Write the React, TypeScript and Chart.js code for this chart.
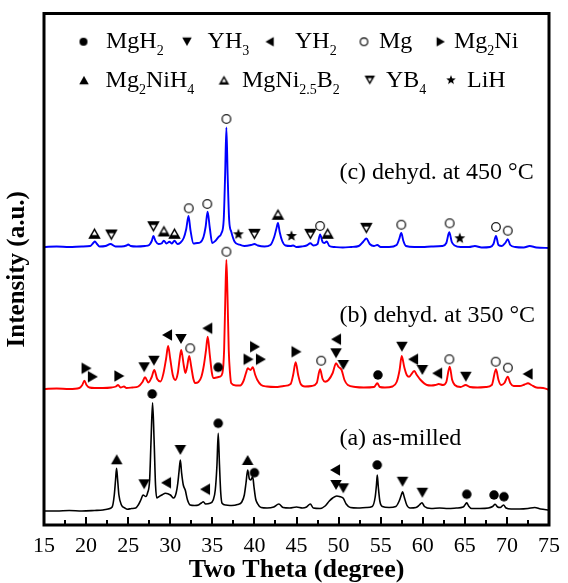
import React, { useEffect, useRef } from "react";
import { Chart, registerables } from "chart.js";

Chart.register(...registerables);

// XRD patterns: [2θ (deg), intensity (a.u., vertically stacked)]
const asMilled: [number, number][] = [
  [15.0, 14], [16.5, 14], [18.0, 14.5], [19.5, 14], [21.0, 14.5], [22.0, 15], [22.6, 16],
  [23.1, 18], [23.35, 30], [23.5, 45], [23.62, 56.7], [23.75, 45], [23.9, 30], [24.2, 20],
  [24.6, 17], [24.93, 15.7], [25.4, 16.5], [25.9, 17], [26.2, 20], [26.5, 25], [26.77, 30],
  [27.1, 28.5], [27.3, 32], [27.55, 45], [27.72, 85], [27.9, 122.3], [28.08, 85], [28.25, 40],
  [28.4, 27], [28.65, 28.3], [29.0, 30], [29.44, 31.7], [30.02, 30], [30.4, 27], [30.7, 32],
  [30.9, 42], [31.05, 54], [31.2, 65], [31.35, 52], [31.55, 40], [31.78, 35], [32.05, 25],
  [32.37, 20], [32.9, 19.5], [33.35, 20], [33.7, 22], [33.93, 23.3], [34.2, 21], [34.72, 21.7],
  [35.1, 25], [35.35, 35], [35.55, 60], [35.7, 91.7], [35.85, 60], [36.0, 32], [36.16, 21.7],
  [36.6, 20], [37.3, 19.5], [38.0, 20.5], [38.5, 23], [38.8, 30], [39.0, 42], [39.2, 55],
  [39.4, 46], [39.55, 45], [39.7, 47], [39.8, 48.3], [39.95, 38], [40.15, 26], [40.35, 21.7],
  [40.8, 17.5], [41.5, 17], [42.3, 18], [42.9, 21], [43.4, 17.5], [44.2, 17], [45.0, 18],
  [45.7, 17], [46.2, 18], [46.64, 21], [47.0, 17], [47.8, 16.5], [48.4, 19], [48.9, 24],
  [49.3, 27], [49.78, 29], [50.1, 28.5], [50.56, 26.7], [50.9, 21], [51.4, 17.5], [52.3, 17],
  [53.3, 17.5], [54.0, 18.5], [54.35, 28], [54.5, 40], [54.6, 50], [54.72, 38], [54.9, 24],
  [55.2, 18.5], [56.0, 17.5], [56.8, 18.5], [57.2, 24], [57.45, 30], [57.6, 33.3], [57.8, 28],
  [58.1, 20], [58.5, 17], [59.2, 17.5], [59.6, 20], [59.9, 22.3], [60.2, 18.5], [61.0, 16.5],
  [62.0, 17], [63.0, 16.5], [64.0, 17], [64.8, 18], [65.05, 20.5], [65.23, 22.3], [65.45, 19],
  [65.8, 16.5], [66.8, 16.5], [67.8, 17], [68.3, 18.5], [68.6, 20.7], [68.9, 18], [69.2, 17.5],
  [69.6, 20], [69.9, 17], [70.5, 16], [71.5, 16], [72.5, 16.5], [73.3, 17.5], [74.0, 16],
  [75.0, 15],
];

const dehyd350: [number, number][] = [
  [15.0, 136], [16.5, 136.5], [18.0, 136], [19.2, 137], [19.55, 140], [19.8, 144.3], [20.05, 140],
  [20.4, 137.5], [21.0, 137], [22.0, 137], [23.0, 137.5], [23.55, 138.5], [23.8, 140], [24.1, 137.5],
  [24.5, 138.5], [24.8, 137], [25.5, 137.5], [26.2, 138.5], [26.7, 143], [27.0, 147.7], [27.4, 142.5],
  [27.8, 148], [28.1, 155], [28.45, 146], [28.85, 143.5], [29.2, 152], [29.5, 166], [29.75, 179],
  [30.0, 166], [30.3, 150], [30.6, 145], [30.9, 152], [31.1, 165], [31.3, 175], [31.6, 160],
  [31.8, 152], [32.0, 158], [32.25, 169], [32.5, 158], [32.75, 146], [32.95, 142], [33.35, 143],
  [33.7, 148.3], [34.0, 160], [34.25, 175], [34.45, 188.3], [34.7, 170], [34.95, 152], [35.15, 147],
  [35.5, 147.5], [35.9, 148.3], [36.2, 152], [36.4, 175], [36.55, 230], [36.67, 265], [36.8, 230],
  [36.95, 175], [37.1, 152], [37.25, 141.7], [37.8, 139.5], [38.3, 139.5], [38.7, 144], [39.0, 152],
  [39.2, 156.7], [39.53, 155], [39.8, 157.7], [40.1, 150], [40.35, 145], [40.8, 140], [41.5, 138.5],
  [42.5, 138], [43.5, 139], [44.3, 141], [44.6, 150], [44.9, 162.7], [45.2, 150], [45.5, 141],
  [46.0, 138.5], [46.8, 139], [47.4, 142], [47.8, 155.7], [48.1, 146], [48.4, 143.3], [48.8, 145],
  [49.3, 152], [49.7, 161.7], [50.0, 158], [50.36, 155], [50.7, 145], [51.1, 140], [52.0, 138],
  [53.0, 137.5], [54.2, 138], [54.6, 141.7], [54.9, 138], [55.5, 137.5], [56.4, 138.5], [56.9, 143],
  [57.25, 155], [57.5, 169], [57.8, 158], [58.1, 150], [58.38, 148.3], [59.0, 154], [59.3, 150],
  [59.75, 145], [60.5, 140], [61.0, 139.5], [61.5, 140], [61.9, 141], [62.4, 140], [62.8, 143],
  [63.2, 158.3], [63.5, 145], [63.8, 140], [64.5, 138], [65.1, 140], [65.6, 138], [66.5, 137.5],
  [67.5, 138], [68.2, 140], [68.7, 155.7], [69.0, 145], [69.3, 140], [69.7, 142], [70.1, 148.3],
  [70.4, 142], [70.8, 139], [71.5, 139], [72.1, 140.5], [72.5, 141.7], [72.9, 140], [73.5, 137.5],
  [74.3, 137], [75.0, 135],
];

const dehyd450: [number, number][] = [
  [15.0, 278], [16.5, 278.5], [18.0, 278], [19.5, 278.5], [20.5, 279], [20.85, 282], [21.05, 283.5],
  [21.3, 281], [21.6, 278.5], [22.3, 279], [22.9, 281], [23.5, 278.5], [24.2, 278.5], [24.8, 279.5],
  [25.0, 280.5], [25.3, 279], [26.0, 278.5], [27.0, 279], [27.5, 280], [27.8, 284], [28.0, 289],
  [28.25, 284], [28.6, 281], [28.95, 281.5], [29.24, 284.3], [29.55, 281.5], [29.9, 283.3], [30.2, 281.5],
  [30.5, 284.3], [30.85, 281], [31.2, 282.3], [31.6, 287], [31.9, 296], [32.17, 309], [32.4, 295],
  [32.76, 281.5], [33.2, 282], [33.55, 282.5], [33.95, 288], [34.2, 298], [34.44, 313.3], [34.7, 297],
  [34.99, 282], [35.35, 284], [35.7, 287.7], [36.08, 291.7], [36.35, 305], [36.52, 350], [36.67, 397.5],
  [36.82, 350], [37.0, 305], [37.25, 293.3], [37.65, 283.3], [38.24, 280.3], [38.8, 279], [39.6, 280],
  [40.0, 281], [40.4, 279.5], [41.2, 278.5], [41.9, 280], [42.35, 288], [42.6, 296], [42.8, 302],
  [43.0, 293], [43.3, 284], [43.7, 279.5], [44.3, 279], [44.6, 279.5], [45.0, 278], [45.6, 278.5],
  [46.2, 279.5], [46.65, 281.7], [47.0, 279.5], [47.5, 281], [47.8, 290.5], [48.1, 283], [48.3, 282],
  [48.6, 283.5], [48.9, 279], [49.5, 278], [50.5, 277.5], [51.5, 278], [52.4, 279], [52.9, 283],
  [53.3, 286.5], [53.7, 281], [54.2, 279], [54.6, 280], [55.0, 278], [56.0, 278], [56.9, 280],
  [57.2, 286], [57.45, 292], [57.7, 284], [58.0, 279], [59.0, 278], [60.0, 278], [61.0, 278.5],
  [62.3, 279], [62.8, 282], [63.15, 292.7], [63.45, 283], [63.8, 279.5], [64.5, 278], [65.5, 278],
  [66.2, 279], [67.0, 277.5], [68.0, 278], [68.4, 281], [68.7, 289], [69.0, 280], [69.4, 279],
  [69.8, 282], [70.1, 285.7], [70.4, 280], [71.0, 278], [72.0, 277.5], [72.7, 279], [73.5, 277.5],
  [75.0, 277],
];

// Phase identification marks: [2θ, height of the mark]
const mgH2Marks: [number, number][] = [
  [27.86, 131], [35.7, 101.7], [40.0, 52.3], [54.59, 60], [65.23, 30.7], [68.47, 30], [69.65, 28.3],
  [35.7, 157.7], [54.67, 150],
];
const yH3Marks: [number, number][] = [
  [26.9, 40.7], [31.2, 75], [49.7, 40], [50.56, 36.7], [57.6, 43.3], [59.95, 32.3],
  [26.9, 157.7], [28.06, 164.3], [31.27, 186], [49.7, 171.7], [50.56, 160], [57.52, 178.3],
  [59.95, 155], [65.12, 148.3],
];
const yH2Marks: [number, number][] = [
  [29.5, 42.3], [34.13, 35.7], [49.58, 55],
  [29.62, 190], [34.4, 196.7], [49.7, 185.7], [58.85, 165.7], [61.71, 151.7], [72.46, 151],
];
const mgMarks: [number, number][] = [
  [32.37, 176.7], [36.67, 273.3], [47.93, 164.3], [63.16, 165.7], [68.67, 163.3], [70.12, 157.3],
  [32.2, 316.7], [34.4, 321], [36.67, 406], [47.8, 299], [57.45, 300.3], [63.2, 301.7], [68.7, 298],
  [70.1, 294.3],
];
const mg2NiMarks: [number, number][] = [
  [20.05, 156.7], [20.8, 148.3], [23.95, 149], [39.3, 165.7], [40.07, 178.3], [40.77, 165.7], [45.0, 173.3],
];
const mg2NiH4Marks: [number, number][] = [[23.64, 65.7], [39.2, 65]];
const mgNiB2Marks: [number, number][] = [[21.0, 291.7], [29.25, 294], [30.5, 291.7], [42.8, 310.7], [48.7, 291.7]];
const yB4Marks: [number, number][] = [[23.0, 290], [28.0, 298.3], [40.0, 290.7], [46.65, 290.7], [53.3, 296.7]];
const liHMarks: [number, number][] = [[38.1, 290.7], [44.4, 289], [64.4, 286.7]];

const phaseNames = ["MgH_2", "YH_3", "YH_2", "Mg", "Mg_2Ni", "Mg_2NiH_4", "MgNi_{2.5}B_2", "YB_4", "LiH"];

const xTickValues = [15, 20, 25, 30, 35, 40, 45, 50, 55, 60, 65, 70, 75];

const sampleLabels = ["(a) as-milled", "(b) dehyd. at 350 °C", "(c) dehyd. at 450 °C"];
const sampleLabelAnchors: [number, number][] = [[50.1, 80], [50.1, 203], [50.1, 346.4]];

const SERIF = '"Liberation Serif", "Times New Roman", serif';

type Glyph = "dot" | "down" | "left" | "ring" | "right" | "up" | "upHalf" | "downHalf" | "star";
const phaseGlyphs: Glyph[] = ["dot", "down", "left", "ring", "right", "up", "upHalf", "downHalf", "star"];

function makeGlyph(kind: Glyph, size: number): HTMLCanvasElement {
  const S = Math.ceil(size + 4);
  const c = document.createElement("canvas");
  c.width = S;
  c.height = S;
  const g = c.getContext("2d")!;
  g.translate(S / 2, S / 2);
  const r = size / 2;
  const h = size * 0.87;
  const tri = (pts: number[][], color: string) => {
    g.beginPath();
    g.moveTo(pts[0][0], pts[0][1]);
    g.lineTo(pts[1][0], pts[1][1]);
    g.lineTo(pts[2][0], pts[2][1]);
    g.closePath();
    g.fillStyle = color;
    g.fill();
  };
  switch (kind) {
    case "dot":
      g.beginPath();
      g.arc(0, 0, r, 0, Math.PI * 2);
      g.fillStyle = "#000";
      g.fill();
      break;
    case "ring":
      g.beginPath();
      g.arc(0, 0, r - 0.7, 0, Math.PI * 2);
      g.strokeStyle = "#222";
      g.lineWidth = 1.35;
      g.stroke();
      break;
    case "up":
      tri([[0, -h / 2], [r, h / 2], [-r, h / 2]], "#000");
      break;
    case "down":
      tri([[0, h / 2], [r, -h / 2], [-r, -h / 2]], "#000");
      break;
    case "left":
      tri([[-h / 2, 0], [h / 2, -r], [h / 2, r]], "#000");
      break;
    case "right":
      tri([[h / 2, 0], [-h / 2, -r], [-h / 2, r]], "#000");
      break;
    case "upHalf": {
      // outlined triangle whose lower part is solid
      tri([[0, -h / 2], [r, h / 2], [-r, h / 2]], "#000");
      const a = -h / 2 + 2.9;
      const hi = h * 0.4;
      const wi = (hi / h) * r;
      tri([[0, a], [wi, a + hi], [-wi, a + hi]], "#fff");
      break;
    }
    case "downHalf": {
      // outlined inverted triangle whose upper part is solid
      tri([[0, h / 2], [r, -h / 2], [-r, -h / 2]], "#000");
      const a = h / 2 - 2.9;
      const hi = h * 0.4;
      const wi = (hi / h) * r;
      tri([[0, a], [wi, a - hi], [-wi, a - hi]], "#fff");
      break;
    }
    case "star": {
      g.beginPath();
      for (let i = 0; i < 10; i++) {
        const rad = i % 2 === 0 ? r : r * 0.42;
        const ang = -Math.PI / 2 + (i * Math.PI) / 5;
        const px = Math.cos(ang) * rad;
        const py = Math.sin(ang) * rad;
        if (i === 0) g.moveTo(px, py);
        else g.lineTo(px, py);
      }
      g.closePath();
      g.fillStyle = "#000";
      g.fill();
      break;
    }
  }
  return c;
}

const plotGlyphSize: Record<Glyph, number> = {
  dot: 9.5, ring: 10, up: 11.5, down: 11.5, left: 11.5, right: 11.5, upHalf: 12.5, downHalf: 12.5, star: 11.5,
};
const legendGlyphSize: Record<Glyph, number> = {
  dot: 8, ring: 9, up: 9.5, down: 9.5, left: 9.5, right: 9.5, upHalf: 10.5, downHalf: 10.5, star: 10,
};

function parseFormula(s: string): { t: string; sub: boolean }[] {
  const out: { t: string; sub: boolean }[] = [];
  let i = 0;
  while (i < s.length) {
    if (s[i] === "_") {
      if (s[i + 1] === "{") {
        const j = s.indexOf("}", i);
        out.push({ t: s.slice(i + 2, j), sub: true });
        i = j + 1;
      } else {
        out.push({ t: s[i + 1], sub: true });
        i += 2;
      }
    } else {
      let j = i;
      while (j < s.length && s[j] !== "_") j++;
      out.push({ t: s.slice(i, j), sub: false });
      i = j;
    }
  }
  return out;
}

// legend placement: [phase index, symbol x, text x] per row, in canvas pixels
const legendRows: { baseline: number; items: [number, number, number][] }[] = [
  { baseline: 48.3, items: [[0, 83.5, 106], [1, 187, 207.6], [2, 269.6, 295], [3, 364, 379], [4, 440.7, 454]] },
  { baseline: 86.7, items: [[5, 84, 105.6], [6, 224, 242], [7, 369.8, 386], [8, 451, 467]] },
];

const xrdDecor = {
  id: "xrdDecor",
  afterDatasetsDraw(chart: Chart) {
    const { ctx, chartArea } = chart;
    const xs = chart.scales.x;
    const ys = chart.scales.y;
    ctx.save();

    // frame
    ctx.strokeStyle = "#000";
    ctx.lineWidth = 3;
    ctx.strokeRect(chartArea.left, chartArea.top, chartArea.right - chartArea.left, chartArea.bottom - chartArea.top);

    // inward ticks on the bottom axis, minor ones halfway between labels
    ctx.lineWidth = 2;
    for (let v = 17.5; v < 75; v += 2.5) {
      const px = Math.round(xs.getPixelForValue(v));
      const major = Math.abs(v % 5) < 1e-6;
      ctx.beginPath();
      ctx.moveTo(px, chartArea.bottom);
      ctx.lineTo(px, chartArea.bottom - (major ? 8 : 5));
      ctx.stroke();
    }

    // legend
    const mainFont = `24px ${SERIF}`;
    const subFont = `14px ${SERIF}`;
    ctx.fillStyle = "#000";
    ctx.textBaseline = "alphabetic";
    ctx.textAlign = "left";
    for (const row of legendRows) {
      for (const [idx, sx, tx] of row.items) {
        const kind = phaseGlyphs[idx];
        const img = makeGlyph(kind, legendGlyphSize[kind]);
        ctx.drawImage(img, sx - img.width / 2, row.baseline - 6.6 - img.height / 2);
        let cx = tx;
        for (const seg of parseFormula(phaseNames[idx])) {
          ctx.font = seg.sub ? subFont : mainFont;
          ctx.fillText(seg.t, cx, row.baseline + (seg.sub ? 7 : 0));
          cx += ctx.measureText(seg.t).width;
        }
      }
    }

    // sample labels
    ctx.font = mainFont;
    sampleLabels.forEach((label, i) => {
      const [lx, ly] = sampleLabelAnchors[i];
      ctx.fillText(label, xs.getPixelForValue(lx), ys.getPixelForValue(ly));
    });

    ctx.restore();
  },
};

const toXY = (arr: [number, number][]) => arr.map(([x, y]) => ({ x, y }));

export default function App() {
  const canvasRef = useRef<HTMLCanvasElement | null>(null);

  useEffect(() => {
    if (!canvasRef.current) return;
    const markSets = [mgH2Marks, yH3Marks, yH2Marks, mgMarks, mg2NiMarks, mg2NiH4Marks, mgNiB2Marks, yB4Marks, liHMarks];
    const markDatasets = markSets.map((marks, i) => ({
      label: phaseNames[i],
      data: toXY(marks),
      showLine: false,
      pointStyle: makeGlyph(phaseGlyphs[i], plotGlyphSize[phaseGlyphs[i]]),
      pointRadius: 5,
      order: 0,
    }));
    const curve = (label: string, data: [number, number][], color: string, width: number) => ({
      label,
      data: toXY(data),
      borderColor: color,
      borderWidth: width,
      pointRadius: 0,
      cubicInterpolationMode: "monotone" as const,
      fill: false,
      order: 1,
    });

    const chart = new Chart(canvasRef.current, {
      type: "line",
      data: {
        datasets: [
          ...markDatasets,
          curve(sampleLabels[0], asMilled, "#000000", 1.6),
          curve(sampleLabels[1], dehyd350, "#ff0000", 1.9),
          curve(sampleLabels[2], dehyd450, "#0000ff", 1.9),
        ] as any,
      },
      options: {
        animation: false,
        responsive: false,
        devicePixelRatio: 1,
        events: [],
        layout: { padding: { top: 13.5, right: 13.5, left: 0, bottom: 0 } },
        plugins: { legend: { display: false }, tooltip: { enabled: false } },
        scales: {
          x: {
            type: "linear",
            min: 15,
            max: 75,
            afterBuildTicks: (s: any) => {
              s.ticks = xTickValues.map((v) => ({ value: v }));
            },
            afterFit: (s: any) => {
              s.height = 58;
            },
            ticks: {
              color: "#000",
              font: { family: SERIF, size: 22 },
              padding: 8,
              maxRotation: 0,
              autoSkip: false,
            },
            grid: { display: false, drawTicks: false },
            border: { display: false },
            title: {
              display: true,
              text: "Two Theta (degree)",
              color: "#000",
              font: { family: SERIF, size: 26, weight: "bold", lineHeight: 1 },
              padding: 0,
            },
          },
          y: {
            type: "linear",
            min: 0,
            max: 511.5,
            afterFit: (s: any) => {
              s.width = 44;
            },
            ticks: { display: false },
            grid: { display: false },
            border: { display: false },
            title: {
              display: true,
              text: "Intensity (a.u.)",
              color: "#000",
              font: { family: SERIF, size: 25, weight: "bold", lineHeight: 1 },
              padding: { top: 5, bottom: 0 },
            },
          },
        },
      },
      plugins: [xrdDecor],
    });
    return () => chart.destroy();
  }, []);

  return (
    <div style={{ position: "absolute", left: 0, top: 0, width: 568, height: 583, background: "#fff" }}>
      <canvas ref={canvasRef} width={568} height={583} style={{ display: "block" }} />
    </div>
  );
}
